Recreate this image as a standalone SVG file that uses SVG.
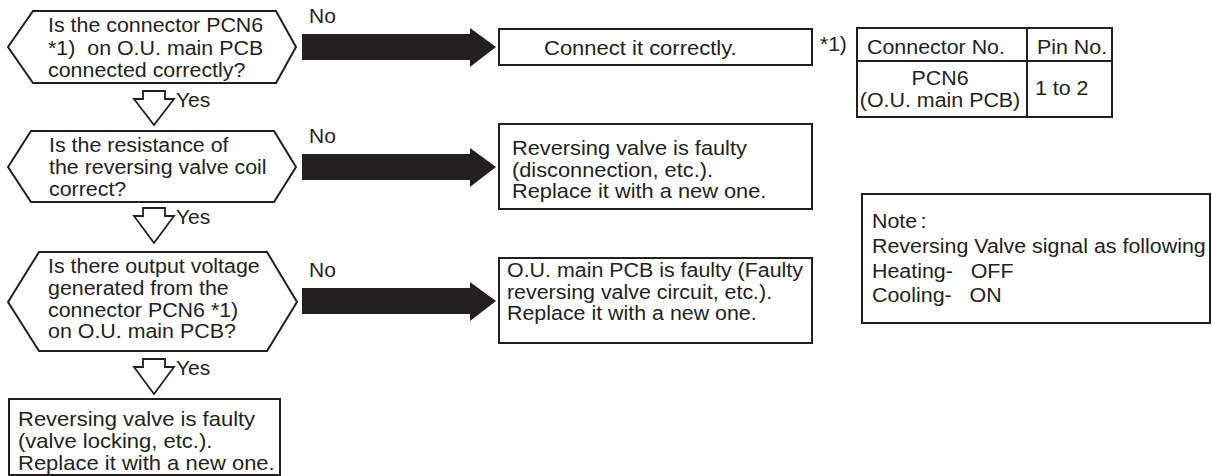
<svg xmlns="http://www.w3.org/2000/svg" width="1212" height="476" viewBox="0 0 1212 476">
<style>
.t{font-family:"Liberation Sans",Arial,Helvetica,sans-serif;font-size:20px;fill:#231f20;white-space:pre}
.s{fill:#fff;stroke:#231f20;stroke-width:2}
.ba{fill:#231f20}
.ha{fill:#fff;stroke:#231f20;stroke-width:1.8;stroke-linejoin:miter}
</style>
<rect width="1212" height="476" fill="#fff"/>
<g id="connectors">
  <polygon class="ba" points="302,34 470,34 470,28 496,47 470,67 470,60 302,60"/>
  <text class="t" transform="translate(309,23) scale(1.05,1)">No</text>
  <polygon class="ba" points="302,154 470,154 470,148 496,167 470,187 470,180 302,180"/>
  <text class="t" transform="translate(309,143) scale(1.05,1)">No</text>
  <polygon class="ba" points="302,288 470,288 470,282 496,301 470,321 470,314 302,314"/>
  <text class="t" transform="translate(309,277) scale(1.05,1)">No</text>
  <polygon class="ha" points="143,91 165,91 165,99 174,99 154,125 134,99 143,99"/>
  <text class="t" transform="translate(176,107) scale(1.05,1)">Yes</text>
  <polygon class="ha" points="143,208 165,208 165,216 174,216 154,243 134,216 143,216"/>
  <text class="t" transform="translate(176,224) scale(1.05,1)">Yes</text>
  <polygon class="ha" points="143,359 165,359 165,367 174,367 154,394 134,367 143,367"/>
  <text class="t" transform="translate(176,375) scale(1.05,1)">Yes</text>
</g>
<g id="d1">
  <polygon class="s" points="8,47 33,11 276,11 296,47 276,83 33,83"/>
  <text class="t" transform="translate(48,32) scale(1.07,1)"><tspan x="0" y="0">Is the connector PCN6</tspan><tspan x="0" y="23">*1)  on O.U. main PCB</tspan><tspan x="0" y="45">connected correctly?</tspan></text>
</g>
<g id="d2">
  <polygon class="s" points="8,167 31,131 274,131 296,167 274,202 31,202"/>
  <text class="t" transform="translate(49,152) scale(1.07,1)"><tspan x="0" y="0">Is the resistance of</tspan><tspan x="0" y="22">the reversing valve coil</tspan><tspan x="0" y="44">correct?</tspan></text>
</g>
<g id="d3">
  <polygon class="s" points="8,302 39,252 267,252 297,302 267,351 39,351"/>
  <text class="t" transform="translate(48,273) scale(1.07,1)"><tspan x="0" y="0">Is there output voltage</tspan><tspan x="0" y="22">generated from the</tspan><tspan x="0" y="44">connector PCN6 *1)</tspan><tspan x="0" y="65">on O.U. main PCB?</tspan></text>
</g>
<g id="b4">
  <rect class="s" x="9" y="399" width="271" height="76"/>
  <text class="t" transform="translate(18,426) scale(1.1,1)"><tspan x="0" y="0">Reversing valve is faulty</tspan><tspan x="0" y="22">(valve locking, etc.).</tspan><tspan x="0" y="44">Replace it with a new one.</tspan></text>
</g>
<g id="b1">
  <rect class="s" x="499" y="29" width="313" height="36"/>
  <text class="t" transform="translate(544,55) scale(1.1,1)">Connect it correctly.</text>
</g>
<g id="b2">
  <rect class="s" x="499" y="124" width="313" height="85"/>
  <text class="t" transform="translate(512,155) scale(1.09,1)"><tspan x="0" y="0">Reversing valve is faulty</tspan><tspan x="0" y="22">(disconnection, etc.).</tspan><tspan x="0" y="43">Replace it with a new one.</tspan></text>
</g>
<g id="b3">
  <rect class="s" x="499" y="258" width="313" height="85"/>
  <text class="t" transform="translate(507,277) scale(1.07,1)"><tspan x="0" y="0">O.U. main PCB is faulty (Faulty</tspan><tspan x="0" y="22">reversing valve circuit, etc.).</tspan><tspan x="0" y="43">Replace it with a new one.</tspan></text>
</g>
<g id="table">
  <text class="t" transform="translate(820,51) scale(1.05,1)">*1)</text>
  <rect class="s" x="857" y="28" width="255" height="89"/>
  <line x1="857" y1="61" x2="1112" y2="61" stroke="#231f20" stroke-width="2"/>
  <line x1="1027" y1="28" x2="1027" y2="117" stroke="#231f20" stroke-width="2"/>
  <text class="t" transform="translate(867,54) scale(1.07,1)">Connector No.</text>
  <text class="t" transform="translate(1037,54) scale(1.07,1)">Pin No.</text>
  <text class="t" text-anchor="middle" transform="translate(940,85) scale(1.07,1)">PCN6</text>
  <text class="t" text-anchor="middle" transform="translate(940,107) scale(1.07,1)">(O.U. main PCB)</text>
  <text class="t" transform="translate(1035,95) scale(1.07,1)">1 to 2</text>
</g>
<g id="note">
  <rect class="s" x="862" y="194" width="348" height="129"/>
  <text class="t" transform="translate(872,228) scale(1.07,1)"><tspan x="0" y="0">Note<tspan dx="3">:</tspan></tspan><tspan x="0" y="25">Reversing Valve signal as following</tspan><tspan x="0" y="50">Heating-   OFF</tspan><tspan x="0" y="74">Cooling-   ON</tspan></text>
</g>
</svg>
